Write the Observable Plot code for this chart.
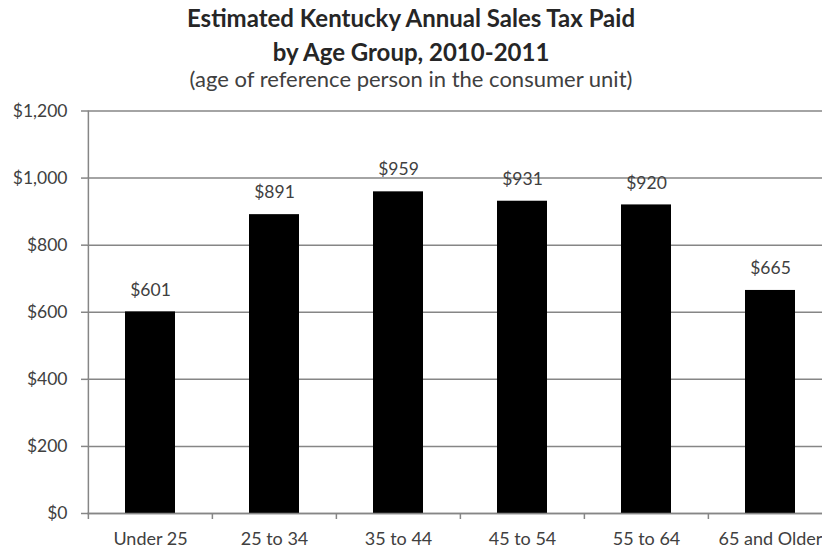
<!DOCTYPE html>
<html>
<head>
<meta charset="utf-8">
<script src="https://cdn.jsdelivr.net/npm/d3@7"></script>
<script src="https://cdn.jsdelivr.net/npm/@observablehq/plot@0.6"></script>
<style>
  html, body { margin: 0; padding: 0; background: white; width: 822px; height: 550px; overflow: hidden; }
  #wrap { position: relative; width: 822px; height: 550px; font-family: Lato, sans-serif; color: #262626; }
  .t { position: absolute; left: 0; width: 822px; text-align: center; white-space: nowrap; }
  #t1, #t2 { font-weight: bold; font-size: 24px; line-height: 1.2; }
  #t1 { top: 4px; }
  #t2 { top: 38px; }
  #sub { font-size: 22px; line-height: 1.2; top: 66px; color: #404040; }
  #chart { position: absolute; left: 0; top: 100px; }
</style>
</head>
<body>
<div id="wrap">
  <div class="t" id="t1">Estimated Kentucky Annual Sales Tax Paid</div>
  <div class="t" id="t2">by Age Group, 2010-2011</div>
  <div class="t" id="sub">(age of reference person in the consumer unit)</div>
  <div id="chart"></div>
</div>
<script>
const ageGroups = ["Under 25", "25 to 34", "35 to 44", "45 to 54", "55 to 64", "65 and Older"];
const salesTax = [601, 891, 959, 931, 920, 665];
const yTicks = [0, 200, 400, 600, 800, 1000, 1200];

const data = ageGroups.map((age, i) => ({age, tax: salesTax[i]}));

const xRange = [87, 832.4];
const step = (xRange[1] - xRange[0]) / ageGroups.length;
const gray = "#868686";
const textColor = "#404040";
const fs = 17.5;
const money = d => "$" + d3.format(",")(d);

const plot = Plot.plot({
  width: 822,
  height: 450,
  marginTop: 10.5,
  marginBottom: 37,
  marginLeft: 87,
  marginRight: 0,
  style: {fontFamily: "Lato, sans-serif", fontSize: fs + "px", color: textColor, background: "white"},
  x: {domain: ageGroups, range: xRange, paddingInner: 0.6, paddingOuter: 0.3, axis: null, label: null},
  y: {domain: [0, 1200], axis: null, label: null},
  marks: [
    Plot.gridY(yTicks, {stroke: gray, strokeOpacity: 1, strokeWidth: 1.5}),
    Plot.axisY(yTicks, {label: null, tickSize: 6, tickPadding: 14, tickFormat: money, stroke: gray, strokeWidth: 1.5, fill: textColor, fontSize: fs}),
    Plot.ruleX([ageGroups[0]], {dx: -step / 2, stroke: gray, strokeWidth: 1.5}),
    Plot.barY(data, {x: "age", y: "tax", fill: "black"}),
    Plot.ruleY([0], {stroke: gray, strokeWidth: 1.5}),
    Plot.axisX({label: null, tickSize: 6, tickFormat: () => "", dx: -step / 2, stroke: gray, strokeWidth: 1.5}),
    Plot.axisX({label: null, tickSize: 0, tickPadding: 19, fill: textColor, fontSize: 18}),
    Plot.text(data, {x: "age", y: "tax", text: d => money(d.tax), dy: -22, fill: textColor, fontSize: fs})
  ]
});
document.getElementById("chart").appendChild(plot);
</script>
</body>
</html>
